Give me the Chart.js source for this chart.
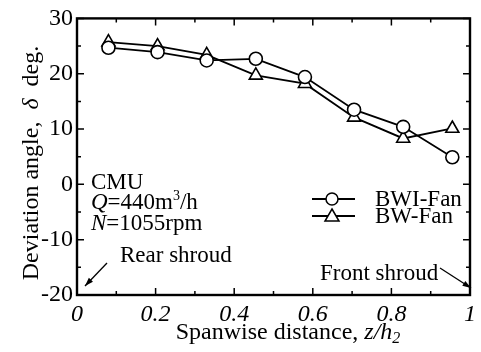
<!DOCTYPE html>
<html><head><meta charset="utf-8">
<script src="https://cdn.jsdelivr.net/npm/chart.js@4/dist/chart.umd.min.js"></script>
<style>html,body{margin:0;padding:0;background:#fff}#w{width:481px;height:352px}</style>
</head><body><div id="w"><canvas id="c"></canvas></div>
<script>
const spanwise = [0.08, 0.205, 0.33, 0.455, 0.58, 0.705, 0.83, 0.955];
const bwiFan = [24.7, 23.9, 22.4, 22.7, 19.4, 13.5, 10.4, 4.9];
const bwFan = [25.7, 25.0, 23.4, 19.7, 18.2, 12.1, 8.3, 10.1];
const xTicks = [0, 0.2, 0.4, 0.6, 0.8, 1];
const yTicks = [-20, -10, 0, 10, 20, 30];
const seriesNames = ['BWI-Fan', 'BW-Fan'];
const F = '"Liberation Serif", "Times New Roman", serif';

const decor = {
  id: 'decor',
  afterDraw(chart) {
    const ctx = chart.ctx, a = chart.chartArea;
    const xs = chart.scales.x, ys = chart.scales.y;
    ctx.save();
    ctx.strokeStyle = '#000'; ctx.lineWidth = 1.5;
    ctx.beginPath();
    for (let i = 0; i <= 10; i++) {
      const v = i / 10;
      const px = xs.getPixelForValue(v);
      const L = (i % 2 === 0) ? 7 : 4;
      ctx.moveTo(px, a.bottom); ctx.lineTo(px, a.bottom - L);
      ctx.moveTo(px, a.top); ctx.lineTo(px, a.top + L);
    }
    for (let v = -20; v <= 30; v += 5) {
      const py = ys.getPixelForValue(v);
      const L = (v % 10 === 0) ? 7 : 4;
      ctx.moveTo(a.left, py); ctx.lineTo(a.left + L, py);
      ctx.moveTo(a.right, py); ctx.lineTo(a.right - L, py);
    }
    ctx.stroke();
    ctx.lineWidth = 2.4;
    ctx.strokeRect(a.left, a.top, a.right - a.left, a.bottom - a.top);

    ctx.fillStyle = '#000';
    ctx.textBaseline = 'alphabetic';
    // x title
    const xt = [['Spanwise distance, ', 'normal', 24, 0], ['z', 'italic', 24, 0], ['/', 'italic', 24, 0], ['h', 'italic', 24, 0], ['2', 'italic', 16, 4]];
    let w = 0;
    xt.forEach(p => { ctx.font = p[1] + ' ' + p[2] + 'px ' + F; w += ctx.measureText(p[0]).width; });
    let x0 = 288 - w / 2;
    xt.forEach(p => { ctx.font = p[1] + ' ' + p[2] + 'px ' + F; ctx.fillText(p[0], x0, 339 + p[3]); x0 += ctx.measureText(p[0]).width; });
    // y title
    ctx.save();
    ctx.translate(38, 163);
    ctx.rotate(-Math.PI / 2);
    const yt = [['Deviation angle,  ', 'normal'], ['δ', 'italic'], ['  deg.', 'normal']];
    w = 0;
    yt.forEach(p => { ctx.font = p[1] + ' 24px ' + F; w += ctx.measureText(p[0]).width; });
    x0 = -w / 2;
    yt.forEach(p => { ctx.font = p[1] + ' 24px ' + F; ctx.fillText(p[0], x0, 0); x0 += ctx.measureText(p[0]).width; });
    ctx.restore();

    // annotation block
    const AF = 23;
    ctx.font = AF + 'px ' + F;
    ctx.fillText('CMU', 91, 189);
    const l2 = [['Q', 'italic', AF, 0], ['=440m', 'normal', AF, 0], ['3', 'normal', 14, -9], ['/h', 'normal', AF, 0]];
    x0 = 91;
    l2.forEach(p => { ctx.font = p[1] + ' ' + p[2] + 'px ' + F; ctx.fillText(p[0], x0, 209 + p[3]); x0 += ctx.measureText(p[0]).width; });
    x0 = 91;
    [['N', 'italic'], ['=1055rpm', 'normal']].forEach(p => { ctx.font = p[1] + ' ' + AF + 'px ' + F; ctx.fillText(p[0], x0, 230); x0 += ctx.measureText(p[0]).width; });

    // shroud labels
    ctx.font = AF + 'px ' + F;
    ctx.fillText('Rear shroud', 120, 262);
    ctx.fillText('Front shroud', 320, 280);
    const arrow = (x1, y1, x2, y2) => {
      ctx.lineWidth = 1.3;
      ctx.beginPath(); ctx.moveTo(x1, y1); ctx.lineTo(x2, y2); ctx.stroke();
      const ang = Math.atan2(y2 - y1, x2 - x1), h = 9;
      ctx.beginPath();
      ctx.moveTo(x2, y2);
      ctx.lineTo(x2 - h * Math.cos(ang - 0.32), y2 - h * Math.sin(ang - 0.32));
      ctx.lineTo(x2 - h * Math.cos(ang + 0.32), y2 - h * Math.sin(ang + 0.32));
      ctx.closePath(); ctx.fill();
    };
    arrow(107, 263, 85, 286);
    arrow(440, 268, 471, 288);

    // legend
    const styles = ['circle', 'triangle'];
    seriesNames.forEach((n, i) => {
      const y = 199 + i * 17;
      ctx.lineWidth = 1.8;
      ctx.beginPath(); ctx.moveTo(312, y); ctx.lineTo(355, y); ctx.stroke();
      ctx.fillStyle = '#fff';
      ctx.lineWidth = 1.5;
      ctx.beginPath();
      if (styles[i] === 'circle') { ctx.arc(332, y, 6, 0, Math.PI * 2); }
      else { ctx.moveTo(332, y - 7); ctx.lineTo(339, y + 5); ctx.lineTo(325, y + 5); ctx.closePath(); }
      ctx.fill(); ctx.stroke();
      ctx.fillStyle = '#000';
      ctx.font = AF + 'px ' + F;
      ctx.fillText(n, 375, y + 7);
    });
    ctx.restore();
  }
};

new Chart(document.getElementById('c'), {
  type: 'line',
  data: {
    datasets: [
      { label: seriesNames[0], data: spanwise.map((x, i) => ({ x, y: bwiFan[i] })), borderColor: '#000', borderWidth: 1.8,
        pointStyle: 'circle', pointRadius: 6.5, pointBackgroundColor: '#fff', pointBorderColor: '#000', pointBorderWidth: 1.6, tension: 0 },
      { label: seriesNames[1], data: spanwise.map((x, i) => ({ x, y: bwFan[i] })), borderColor: '#000', borderWidth: 1.8,
        pointStyle: 'triangle', pointRadius: 7.5, pointBackgroundColor: '#fff', pointBorderColor: '#000', pointBorderWidth: 1.6, tension: 0 }
    ]
  },
  options: {
    responsive: true, maintainAspectRatio: false, animation: false,
    layout: { padding: { top: 18, right: 6, left: 0, bottom: 0 } },
    plugins: { legend: { display: false }, tooltip: { enabled: false } },
    scales: {
      x: { type: 'linear', min: 0, max: 1,
        afterFit(s) { s.height = 57; },
        afterBuildTicks(s) { s.ticks = xTicks.map(v => ({ value: v })); },
        grid: { display: false, drawTicks: false }, border: { display: false },
        ticks: { color: '#000', padding: 5, maxRotation: 0, autoSkip: false, font: { family: F, size: 24, style: 'italic' },
          callback: v => String(v) } },
      y: { type: 'linear', min: -20, max: 30,
        afterFit(s) { s.width = 77; },
        afterBuildTicks(s) { s.ticks = yTicks.map(v => ({ value: v })); },
        grid: { display: false, drawTicks: false }, border: { display: false },
        ticks: { color: '#000', padding: 4, font: { family: F, size: 24 }, callback: v => String(v) } }
    }
  },
  plugins: [decor]
});
</script></body></html>
